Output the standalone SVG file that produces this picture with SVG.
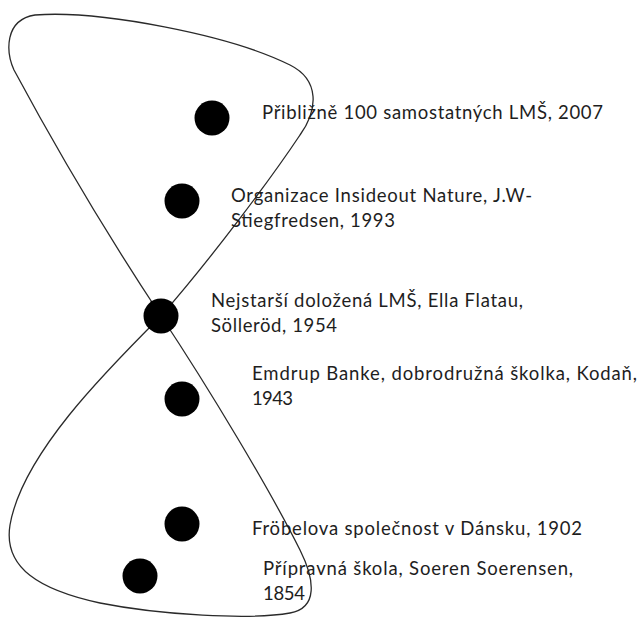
<svg xmlns="http://www.w3.org/2000/svg" width="643" height="617" viewBox="0 0 643 617">
<style>
.loop{fill:none;stroke:#2a2a2a;stroke-width:1.3}
.dot{fill:#000}
.t{font-family:"Lato","Liberation Sans",sans-serif;font-size:18.5px;fill:#1e1e1e}
</style>
<rect width="643" height="617" fill="#fff"/>
<g id="connectors">
<path class="loop" d="M161,316 C108,236 58,152 14,70 C6,52 4,20 35,15 C100,10 230,35 290,65 C320,80 318,110 300,135 C270,180 210,260 161,316 Z"/>
<path class="loop" d="M161,316 C105,372 22,455 10,525 C3,568 40,590 100,603 C160,615 250,620 290,613 C318,608 315,580 300,550 C270,490 210,390 161,316 Z"/>
</g>
<g id="n2007">
<circle class="dot" cx="212" cy="118" r="17.5"/>
<text class="t" x="262" y="119" textLength="341">Přibližně 100 samostatných LMŠ, 2007</text>
</g>
<g id="n1993">
<circle class="dot" cx="182" cy="201" r="17.5"/>
<text class="t" x="231" y="202" textLength="301">Organizace Insideout Nature, J.W-</text>
<text class="t" x="231" y="227" textLength="164">Stiegfredsen, 1993</text>
</g>
<g id="n1954">
<circle class="dot" cx="161" cy="316" r="17.5"/>
<text class="t" x="211" y="307" textLength="312">Nejstarší doložená LMŠ, Ella Flatau,</text>
<text class="t" x="211" y="332" textLength="126">Sölleröd, 1954</text>
</g>
<g id="n1943">
<circle class="dot" cx="182" cy="399" r="17.5"/>
<text class="t" x="252" y="380" textLength="385">Emdrup Banke, dobrodružná školka, Kodaň,</text>
<text class="t" x="252" y="405" textLength="41">1943</text>
</g>
<g id="n1902">
<circle class="dot" cx="182" cy="524" r="17.5"/>
<text class="t" x="252" y="535" textLength="330">Fröbelova společnost v Dánsku, 1902</text>
</g>
<g id="n1854">
<circle class="dot" cx="140" cy="576" r="17.5"/>
<text class="t" x="263" y="575" textLength="310">Přípravná škola, Soeren Soerensen,</text>
<text class="t" x="263" y="600" textLength="42">1854</text>
</g>
</svg>
